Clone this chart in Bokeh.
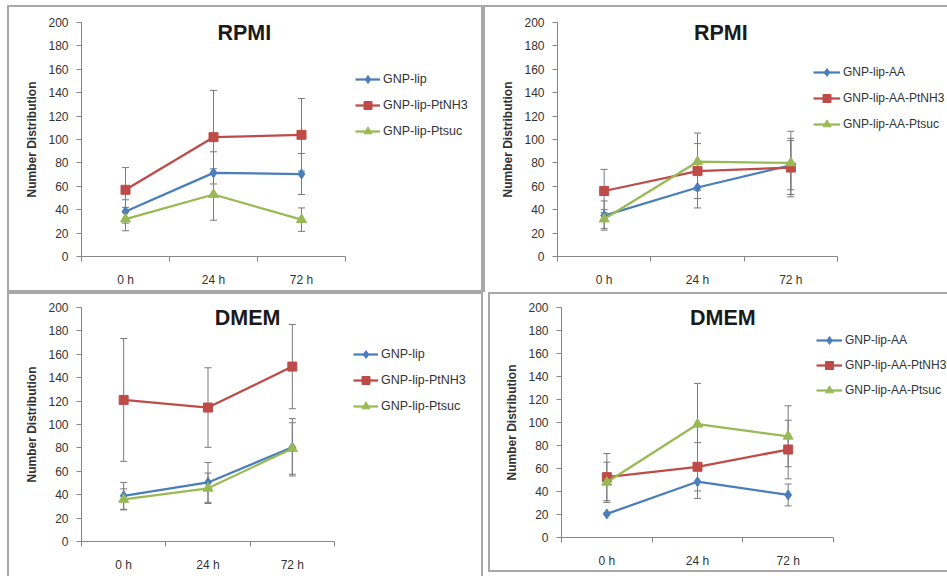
from bokeh.plotting import figure
from bokeh.layouts import column, row
from bokeh.models import (ColumnDataSource, Whisker, TeeHead, Legend, LegendItem,
                          FixedTicker, Range1d, Label)
from bokeh.embed import file_html
from bokeh.resources import INLINE

# ---- data -------------------------------------------------------------
times = ["0 h", "24 h", "72 h"]

# RPMI, plain liposomes
rpmi_lip = [38.5, 71.5, 70.5]
rpmi_lip_err = [10, 18, 17.5]
rpmi_lip_ptnh3 = [57, 102, 104]
rpmi_lip_ptnh3_err = [19, 40, 31]
rpmi_lip_ptsuc = [32, 53, 31.5]
rpmi_lip_ptsuc_err = [10, 22, 10]

# RPMI, AA liposomes
rpmi_aa = [35, 59, 78]
rpmi_aa_err = [12.5, 17.5, 21]
rpmi_aa_ptnh3 = [56, 73, 76]
rpmi_aa_ptnh3_err = [18.5, 23.5, 25]
rpmi_aa_ptsuc = [32, 81, 80]
rpmi_aa_ptsuc_err = [8, 24.5, 27]

# DMEM, plain liposomes
dmem_lip = [39, 50.5, 80.5]
dmem_lip_err = [11.5, 17, 24.5]
dmem_lip_ptnh3 = [121, 114.5, 149.5]
dmem_lip_ptnh3_err = [52.5, 34, 36]
dmem_lip_ptsuc = [36, 45.5, 79.5]
dmem_lip_ptsuc_err = [9, 13, 22]

# DMEM, AA liposomes
dmem_aa = [20.5, 48.5, 37]
dmem_aa_err = [1, 14.5, 9.5]
dmem_aa_ptnh3 = [52.5, 61.5, 76.5]
dmem_aa_ptnh3_err = [20.5, 21, 25.5]
dmem_aa_ptsuc = [48, 98.5, 88]
dmem_aa_ptsuc_err = [17.5, 35.5, 26.5]

labels_lip = ["GNP-lip", "GNP-lip-PtNH3", "GNP-lip-Ptsuc"]
labels_aa = ["GNP-lip-AA", "GNP-lip-AA-PtNH3", "GNP-lip-AA-Ptsuc"]

# ---- styling ----------------------------------------------------------
BLUE, RED, GREEN = "#4A7EBB", "#BE4B48", "#98B954"
# (marker, colour, size on the chart, size in the legend)
MARKERS = [("diamond", BLUE, 10, 7), ("square", RED, 9, 6), ("triangle", GREEN, 10, 7)]
AXIS_GRAY = "#868686"
TEXT = "#333333"
ERR = "#7a7a7a"
FONT = "Liberation Sans"
EDGE = "#a8a8a8"


def panel(title, series, labels, width, height, borders, axis_w, margin, legend_at,
          legend_glyph_w, legend_spacing, legend_font, title_x, edges):
    left, top, right, bottom = borders
    # the frame runs to the right edge so the legend sits inside it;
    # the category axis itself is bounded to the three time points
    n = len(times)
    frame_w = width - left - right
    x_end = n * frame_w / axis_w
    p = figure(width=width, height=height, output_backend="svg", toolbar_location=None,
               x_range=Range1d(0, x_end), y_range=Range1d(0, 200),
               min_border_left=left, min_border_top=top,
               min_border_right=right, min_border_bottom=bottom)
    p.margin = margin
    p.border_fill_color = None
    p.background_fill_color = None
    p.outline_line_color = None
    p.grid.visible = False
    p.styles = {"box-shadow": edges}

    xs = [i + 0.5 for i in range(n)]

    # y axis
    ya = p.yaxis[0]
    ya.ticker = FixedTicker(ticks=list(range(0, 201, 20)))
    ya.axis_line_color = AXIS_GRAY
    ya.major_tick_line_color = AXIS_GRAY
    ya.major_tick_out = 5
    ya.major_tick_in = 0
    ya.minor_tick_line_color = None
    ya.major_label_standoff = 8
    ya.major_label_text_font = FONT
    ya.major_label_text_font_size = "12px"
    ya.major_label_text_color = TEXT
    ya.axis_label = "Number Distribution"
    ya.axis_label_text_font = FONT
    ya.axis_label_text_font_size = "12px"
    ya.axis_label_text_font_style = "bold"
    ya.axis_label_text_color = TEXT
    ya.axis_label_standoff = 6

    # category axis: labels at the centres, ticks on the boundaries
    xa = p.xaxis[0]
    xa.bounds = (0, n)
    xa.ticker = FixedTicker(ticks=xs, minor_ticks=list(range(n + 1)))
    xa.major_label_overrides = {x: t for x, t in zip(xs, times)}
    xa.axis_line_color = AXIS_GRAY
    xa.major_tick_line_color = None
    xa.major_tick_out = 0
    xa.major_tick_in = 0
    xa.minor_tick_line_color = AXIS_GRAY
    xa.minor_tick_out = 5
    xa.minor_tick_in = 0
    xa.major_label_standoff = 11
    xa.major_label_text_font = FONT
    xa.major_label_text_font_size = "12px"
    xa.major_label_text_color = TEXT

    items = []
    for (vals, errs), label, (marker, color, size, key_size) in zip(series, labels, MARKERS):
        src = ColumnDataSource(dict(
            x=xs, y=vals,
            upper=[v + e for v, e in zip(vals, errs)],
            lower=[v - e for v, e in zip(vals, errs)]))
        p.add_layout(Whisker(source=src, base="x", upper="upper", lower="lower",
                             line_color=ERR, line_width=1,
                             upper_head=TeeHead(size=7, line_color=ERR, line_width=1),
                             lower_head=TeeHead(size=7, line_color=ERR, line_width=1)))
        ln = p.line("x", "y", source=src, line_color=color, line_width=2.25)
        # smaller marker used for the legend key (sits beneath the chart marker)
        key = p.scatter("x", "y", source=src, marker=marker, size=key_size,
                        fill_color=color, line_color=color)
        p.scatter("x", "y", source=src, marker=marker, size=size,
                  fill_color=color, line_color=color)
        items.append(LegendItem(label=label, renderers=[ln, key]))

    leg = Legend(items=items, location=legend_at, orientation="vertical",
                 glyph_width=legend_glyph_w, glyph_height=20, label_height=20,
                 label_standoff=3, spacing=legend_spacing, padding=0, margin=0,
                 border_line_color=None, background_fill_alpha=0,
                 label_text_font=FONT, label_text_font_size=legend_font,
                 label_text_color=TEXT)
    p.add_layout(leg, "center")

    p.add_layout(Label(x=title_x, y=191, text=title, text_align="center",
                       text_baseline="middle", text_font=FONT,
                       text_font_size="21.5px", text_font_style="bold",
                       text_color="#1a1a1a"))
    return p


def shadow(*sides):
    parts = {"left": f"inset 2px 0 0 0 {EDGE}", "top": f"inset 0 2px 0 0 {EDGE}",
             "right": f"inset -2px 0 0 0 {EDGE}", "bottom": f"inset 0 -2px 0 0 {EDGE}"}
    return ", ".join(parts[s] for s in sides)


p1 = panel("RPMI",
           [(rpmi_lip, rpmi_lip_err), (rpmi_lip_ptnh3, rpmi_lip_ptnh3_err),
            (rpmi_lip_ptsuc, rpmi_lip_ptsuc_err)], labels_lip,
           476, 287, (74, 17, 3, 36), 264, (5, 0, 0, 7), (274, 115), 25, 6, "12.5px", 1.85,
           shadow("left", "top", "right", "bottom"))
p2 = panel("RPMI",
           [(rpmi_aa, rpmi_aa_err), (rpmi_aa_ptnh3, rpmi_aa_ptnh3_err),
            (rpmi_aa_ptsuc, rpmi_aa_ptsuc_err)], labels_aa,
           464, 287, (74, 17, 0, 36), 280, (5, 0, 0, 0), (256, 122), 27, 6, "12px", 1.75,
           shadow("left", "top"))
p3 = panel("DMEM",
           [(dmem_lip, dmem_lip_err), (dmem_lip_ptnh3, dmem_lip_ptnh3_err),
            (dmem_lip_ptsuc, dmem_lip_ptsuc_err)], labels_lip,
           476, 284, (74, 15, 3, 34), 253, (0, 0, 0, 7), (272, 125), 25, 6, "12.5px", 1.97,
           shadow("left", "top", "right"))
p4 = panel("DMEM",
           [(dmem_aa, dmem_aa_err), (dmem_aa_ptnh3, dmem_aa_ptnh3_err),
            (dmem_aa_ptsuc, dmem_aa_ptsuc_err)], labels_aa,
           459, 280, (73, 15, 0, 35), 272, (0, 0, 0, 5), (255, 137), 26, 5, "12px", 1.78,
           shadow("left", "top", "bottom"))

layout = column(row(p1, p2), row(p3, p4))

with open("out.html", "w") as f:
    f.write(file_html(layout, INLINE))
